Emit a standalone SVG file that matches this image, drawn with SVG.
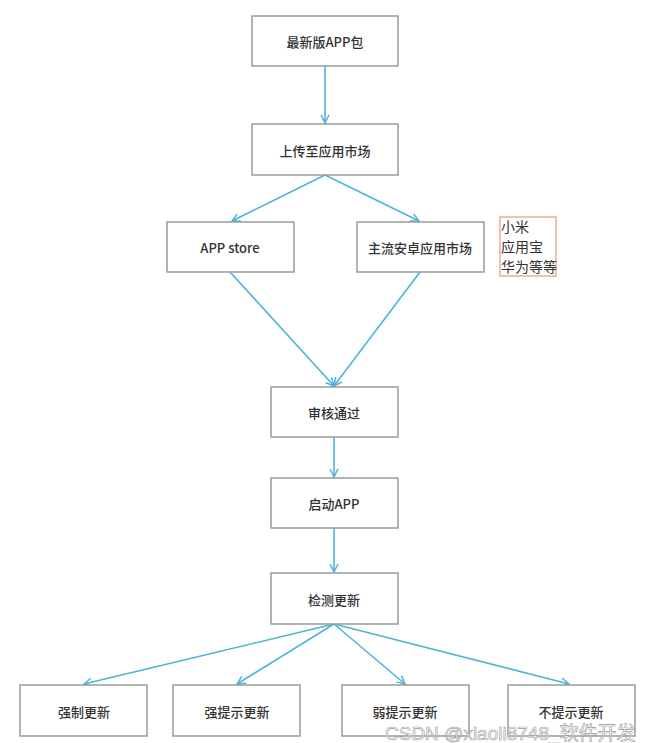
<svg xmlns="http://www.w3.org/2000/svg" width="655" height="743" viewBox="0 0 655 743">
<style>
.box{fill:#fff;stroke:#9a9a9a;stroke-width:1.5}
.t{font-family:"Noto Sans CJK SC","Liberation Sans",sans-serif;font-size:13px;fill:#333;text-anchor:middle;dominant-baseline:central;font-weight:500}
.c{stroke:#4db5d5;stroke-width:1.6;fill:none;marker-end:url(#ah)}
.note{font-family:"Noto Sans CJK SC",sans-serif;font-size:14px;fill:#333}
.wm{font-family:"Liberation Sans","Noto Sans CJK SC",sans-serif;font-size:19px;fill:#fff;stroke:#888;stroke-width:0.6;opacity:0.85}
</style>
<defs>
<marker id="ah" viewBox="0 0 10 10" refX="9" refY="5" markerWidth="10" markerHeight="10" markerUnits="userSpaceOnUse" orient="auto">
<path d="M1,1 L9,5 L1,9" fill="none" stroke="#4db5d5" stroke-width="1.5"/>
</marker>
</defs>
<rect width="655" height="743" fill="#fff"/>
<g id="connectors">
<line class="c" x1="325" y1="66" x2="325" y2="123"/>
<line class="c" x1="325" y1="175" x2="232" y2="221"/>
<line class="c" x1="325" y1="175" x2="419" y2="221"/>
<line class="c" x1="230" y1="272" x2="334" y2="386"/>
<line class="c" x1="420" y1="272" x2="334" y2="386"/>
<line class="c" x1="334" y1="437" x2="334" y2="477"/>
<line class="c" x1="334" y1="528" x2="334" y2="572"/>
<line class="c" x1="334" y1="624" x2="84" y2="684"/>
<line class="c" x1="334" y1="624" x2="237" y2="684"/>
<line class="c" x1="334" y1="624" x2="405" y2="684"/>
<line class="c" x1="334" y1="624" x2="569" y2="684"/>
</g>
<g id="n1"><rect class="box" x="252" y="16" width="146" height="50"/><text class="t" x="325" y="41">最新版APP包</text></g>
<g id="n2"><rect class="box" x="252" y="124" width="146" height="51"/><text class="t" x="325" y="150">上传至应用市场</text></g>
<g id="n3"><rect class="box" x="167" y="222" width="127" height="50"/><text class="t" x="230" y="247">APP store</text></g>
<g id="n4"><rect class="box" x="357" y="222" width="127" height="50"/><text class="t" x="420" y="247">主流安卓应用市场</text></g>
<g id="note"><rect x="500" y="217" width="56" height="59" fill="#fff" stroke="#f0a27a" stroke-width="1.3"/>
<text class="note" x="501" y="232">小米</text><text class="note" x="501" y="252">应用宝</text><text class="note" x="501" y="272">华为等等</text></g>
<g id="n5"><rect class="box" x="271" y="387" width="127" height="50"/><text class="t" x="334" y="412">审核通过</text></g>
<g id="n6"><rect class="box" x="271" y="478" width="127" height="50"/><text class="t" x="334" y="503">启动APP</text></g>
<g id="n7"><rect class="box" x="271" y="573" width="127" height="51"/><text class="t" x="334" y="599">检测更新</text></g>
<g id="n8"><rect class="box" x="20" y="685" width="127" height="51"/><text class="t" x="84" y="711">强制更新</text></g>
<g id="n9"><rect class="box" x="173" y="685" width="127" height="51"/><text class="t" x="237" y="711">强提示更新</text></g>
<g id="n10"><rect class="box" x="342" y="685" width="127" height="51"/><text class="t" x="405" y="711">弱提示更新</text></g>
<g id="n11"><rect class="box" x="508" y="685" width="127" height="51"/><text class="t" x="571" y="711">不提示更新</text></g>
<text class="wm" x="385" y="740">CSDN @xiaoli8748_软件开发</text>
</svg>
